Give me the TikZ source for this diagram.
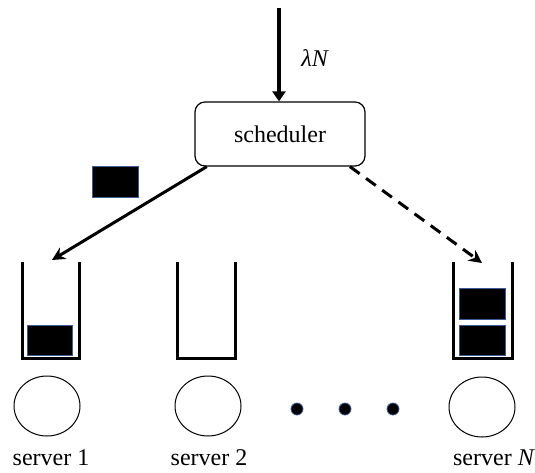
\documentclass[tikz,border=0pt]{standalone}
\usepackage{fontspec}
\setmainfont{Liberation Serif}
\usetikzlibrary{arrows.meta,shapes.geometric,positioning}
\definecolor{jobedge}{RGB}{60,90,150}
\tikzset{
  wall/.style={line width=1.5pt, line cap=rect},
  job/.style={fill=black, draw=jobedge, line width=0.4pt},
  server/.style={draw, ellipse, line width=0.5pt, minimum width=33pt, minimum height=30pt, inner sep=0pt},
  tag/.style={font=\fontsize{12}{14}\selectfont, inner sep=0pt}
}
\begin{document}
\begin{tikzpicture}[x=0.5pt, y=-0.5pt]
    \useasboundingbox (0,0) rectangle (535,472);

    % scheduler and arrival stream
    \node[draw, rounded corners=5pt, line width=0.6pt, minimum width=85pt, minimum height=32pt, font=\fontsize{12}{14}\selectfont]
      (sched) at (280,134) {scheduler};
    \coordinate (src) at (279,8);
    \draw [line width=2pt, -{Triangle[width=6.5pt,length=5pt]}] (src) -- (src |- sched.north);
    \node[tag, right] (rate) at (301,58) {\textit{λN}};

    % job being dispatched
    \fill[job] (92,166) rectangle (138,197);

    % queues
    \foreach \l/\r/\n in {22/79/1, 177/235/2, 453/512/N}
      \draw[wall] (\l,263) -- (\l,358) -- (\r,358) -- (\r,263);
    \coordinate (q1) at (52,260);
    \coordinate (qN) at (482,263);

    \draw [line width=1.5pt, -{Stealth[width=6.5pt,length=6.5pt]}] (sched.204) -- (q1);
    \draw [line width=1.5pt, dashed, dash pattern=on 6pt off 4pt, -{Stealth[width=6.5pt,length=6.5pt]}] (sched.335) -- (qN);

    % jobs waiting
    \fill[job] (27,325) rectangle (72,355);
    \fill[job] (459,288) rectangle (505,319);
    \fill[job] (459,325) rectangle (505,355);

    % servers
    \node[server] (s1) at (47,406) {};
    \node[server] (s2) at (208,406) {};
    \node[server] (sN) at (482,407) {};
    \foreach \x in {297,345,393}
      \fill[job] (\x,409) circle (3pt);

    \node[tag] (l1) at (51,458) {server 1};
    \node[tag] (l2) at (209,458) {server 2};
    \node[tag] (lN) at (494,458) {server \textit{N}};
\end{tikzpicture}
\end{document}
